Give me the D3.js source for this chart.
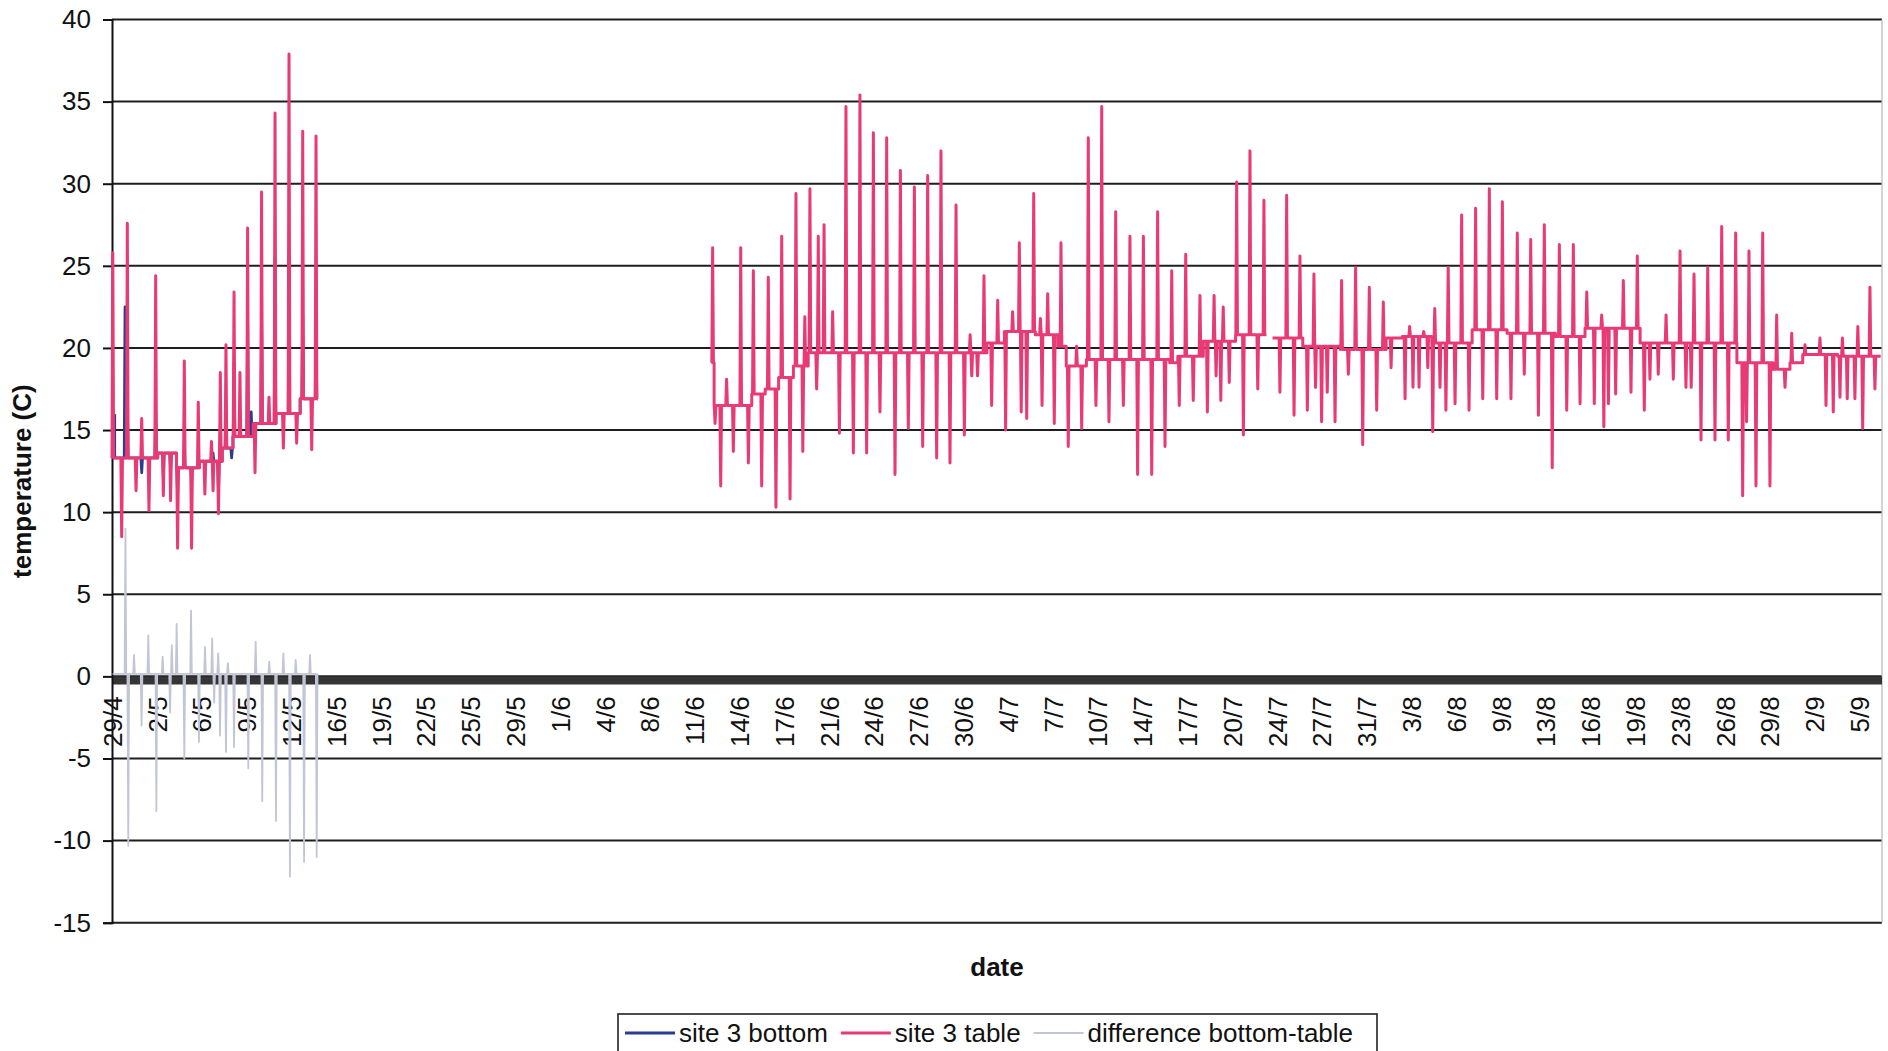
<!DOCTYPE html>
<html><head><meta charset="utf-8">
<script src="https://cdn.jsdelivr.net/npm/d3@7"></script>
<style>
body{margin:0;background:#fff}
svg{display:block}
text{font-family:Arial,"Liberation Sans",Helvetica,sans-serif}
</style>
</head><body>
<svg id="chart" width="1888" height="1051"></svg>
<script>
// ---------- DATA ----------
const tickLabels = ["29/4","2/5","6/5","9/5","12/5","16/5","19/5","22/5","25/5","29/5","1/6","4/6","8/6","11/6","14/6","17/6","21/6","24/6","27/6","30/6","4/7","7/7","10/7","14/7","17/7","20/7","24/7","27/7","31/7","3/8","6/8","9/8","13/8","16/8","19/8","23/8","26/8","29/8","2/9","5/9"];
const daysPerLabel = 10 / 3;            // category labels every 40 samples (2 h each)
const yTicks = [-15,-10,-5,0,5,10,15,20,25,30,35,40];

// site 3 table: baseline levels (step starts, days after 29/4) and single-sample spikes
const tableBaseDay   = [0, 3.4, 4.8, 6.5, 8.2, 9.0, 10.5, 12.2, 14.0, 15.3,
  44.6, 44.8, 47.6, 48.6, 49.6, 50.7, 51.8, 65.1, 66.4, 68.7, 70.4, 71.0, 72.5,
  78.7, 79.3, 81.2, 83.6, 85.9, 86.35, 88.6, 91.4, 94.8, 96.0, 98.2, 101.2, 103.8, 107.4, 109.6,
  113.7, 120.9, 123.6, 124.85, 125.8, 128.4, 131.6];
const tableBaseValue = [13.3, 13.6, 12.7, 13.1, 13.9, 14.6, 15.4, 16.0, 16.9, null,
  19.1, 16.5, 17.2, 17.5, 18.2, 18.9, 19.7, 20.3, 21.0, 20.8, 20.1, 18.9, 19.3,
  19.1, 19.5, 20.4, 20.8, null, 20.6, 20.1, 19.9, 20.6, 20.7, 20.3, 21.1, 20.9, 20.7, 21.2,
  20.3, 19.1, 18.7, 19.1, 19.6, 19.5, null];
const tableSpikeDay = [0.06,0.72,1.14,1.79,2.21,2.75,3.25,3.82,4.36,4.88,5.38,5.92,6.42,6.91,7.40,7.52,7.92,8.06,8.48,9.08,9.52,10.09,10.64,11.13,11.68,12.13,12.75,13.17,13.74,14.19,14.86,15.18,
  44.69,44.87,45.29,45.73,46.23,46.78,47.35,47.72,48.34,48.83,49.40,49.83,50.45,50.89,51.40,51.55,51.93,52.43,52.55,52.98,53.62,54.12,54.61,55.16,55.65,56.15,56.65,57.14,57.64,58.26,58.66,59.25,59.70,60.32,60.69,61.36,61.68,62.35,62.80,63.42,63.85,63.97,64.40,64.88,65.45,65.90,66.49,67.01,67.51,67.65,68.06,68.58,69.08,69.20,69.62,70.11,70.61,71.15,71.77,72.15,72.64,73.21,73.64,74.18,74.68,75.25,75.74,76.31,76.74,77.36,77.80,78.35,78.85,79.41,79.89,80.45,80.95,81.50,82.00,82.15,82.50,82.68,83.13,83.68,84.18,84.67,85.25,85.71,
  86.90,87.40,87.95,88.39,88.94,89.43,89.55,90.00,90.42,91.00,91.49,91.99,92.53,93.06,93.55,94.10,94.59,95.17,96.21,96.55,96.80,97.25,97.60,97.90,98.27,98.42,98.81,99.25,99.42,99.93,100.42,100.97,101.46,101.99,102.48,103.03,103.45,104.09,104.56,105.08,105.56,106.13,106.57,107.16,107.69,108.24,108.73,109.23,109.73,110.29,110.84,111.00,111.34,111.88,112.45,113.02,113.49,114.01,114.43,115.05,115.63,116.17,116.67,117.11,117.50,117.71,118.23,118.73,119.27,119.77,120.26,120.81,121.33,121.62,121.80,122.32,122.82,123.36,123.86,124.48,124.98,125.97,127.08,127.53,128.07,128.57,128.75,129.11,129.68,129.90,130.26,130.80,131.17];
const tableSpikeValue = [25.8,8.5,27.6,11.3,15.7,10.1,24.4,11.0,10.7,7.8,19.2,7.8,16.7,11.1,14.3,11.3,9.9,18.5,20.2,23.4,18.5,27.3,12.4,29.5,17.0,34.3,13.9,37.9,14.2,33.2,13.8,32.9,
  26.1,15.4,11.6,18.1,13.7,26.1,13.0,24.7,11.6,24.3,10.3,26.8,10.8,29.4,13.7,21.9,29.7,17.5,26.8,27.5,22.2,14.8,34.7,13.6,35.4,13.6,33.1,16.1,32.8,12.3,30.8,15.1,29.8,14.0,30.5,13.3,32.0,13.0,28.7,14.7,20.8,18.3,18.3,24.4,16.5,22.9,15.0,22.2,26.4,16.1,15.7,29.4,21.8,16.5,23.3,15.4,26.4,14.0,20.1,15.1,32.8,16.5,34.7,15.5,28.3,16.5,26.8,12.3,26.8,12.3,28.3,14.0,24.7,16.5,25.7,16.8,23.2,16.1,23.2,18.3,16.8,22.5,17.9,30.1,14.7,32.0,17.5,29.0,
  17.3,29.3,15.9,25.6,16.2,24.5,17.6,15.5,17.3,15.5,24.1,18.4,24.9,14.1,23.7,16.2,22.8,18.8,16.9,21.3,17.6,17.6,21.0,18.8,14.9,22.4,17.6,16.2,24.9,16.6,28.1,16.2,28.5,16.9,29.7,16.9,28.9,16.9,27.0,18.4,26.6,15.9,27.5,12.7,26.3,16.2,26.3,16.6,23.4,16.6,22.0,15.2,16.6,17.2,24.1,17.3,25.6,16.2,18.1,18.4,22.0,18.1,25.9,17.6,17.6,24.5,14.4,24.9,14.4,27.4,14.4,27.0,11.0,15.5,25.9,11.6,27.0,11.6,22.0,17.6,20.9,20.2,20.6,16.5,16.1,17.0,20.6,16.9,16.9,21.3,15.1,23.7,17.5];

// site 3 bottom (only logged in the first fortnight)
const bottomBaseDay   = [0, 0.2, 3.4, 4.8, 6.5, 8.2, 9.0, 10.5, 12.2, 14.0, 15.3];
const bottomBaseValue = [15.9, 13.3, 13.6, 12.7, 13.1, 13.9, 14.6, 15.4, 16.0, 16.9, null];
const bottomSpikeDay   = [0.97,1.14,2.21,2.75,3.25,3.82,4.36,4.88,5.38,5.92,6.91,7.52,7.92,8.06,8.48,8.90,9.08,10.09,10.36,10.64,11.13,12.13,13.17,14.19,15.18];
const bottomSpikeValue = [22.5,17.3,12.4,12.6,16.2,12.2,12.6,11.0,14.1,11.7,12.9,13.6,11.3,14.9,15.6,13.3,19.1,21.6,16.1,14.5,21.9,25.5,25.7,21.9,21.9];

// difference bottom-table
const diffBaseDay   = [0.05, 15.3];
const diffBaseValue = [0.15, null];
const diffSpikeDay   = [1.00,1.21,1.64,2.20,2.70,3.30,3.77,4.32,4.45,4.81,5.38,5.88,6.47,6.92,7.45,7.60,7.90,8.04,8.48,8.62,9.08,10.14,10.69,11.18,11.70,12.20,12.75,13.24,13.67,14.29,14.73,15.23];
const diffSpikeValue = [9.0,-10.3,1.3,-3.0,2.5,-8.2,1.2,-2.2,1.9,3.2,-5.0,4.0,-4.0,1.8,2.3,-1.6,1.4,-3.6,-4.6,0.8,-4.3,-5.6,2.1,-7.6,0.9,-8.8,1.4,-12.2,1.0,-11.3,1.3,-11.0];

const seriesNames  = ["site 3 bottom", "site 3 table", "difference bottom-table"];
const seriesColors = ["#2b3d8f", "#e83a74", "#c2c5d6"];

// ---------- LAYOUT ----------
const svg = d3.select("#chart");
const plotLeft = 112, plotRight = 1882, plotTop = 19.5, plotBottom = 922.7;
const lastLabelX = plotLeft + (tickLabels.length - 1) * 44.8;
const x = d3.scaleLinear()
  .domain([0, (tickLabels.length - 1) * daysPerLabel])
  .range([plotLeft, lastLabelX]);
const y = d3.scaleLinear().domain([-15, 40]).range([plotBottom, plotTop]);
const ink = "#111";

svg.append("rect").attr("width", 1888).attr("height", 1051).attr("fill", "#fff");

// horizontal gridlines
svg.append("g").selectAll("line").data(yTicks).join("line")
  .attr("x1", plotLeft).attr("x2", plotRight)
  .attr("y1", d => y(d)).attr("y2", d => y(d))
  .attr("stroke", "#1e1e1e").attr("stroke-width", 2);

// right plot border
svg.append("line").attr("x1", plotRight).attr("x2", plotRight)
  .attr("y1", plotTop).attr("y2", plotBottom)
  .attr("stroke", "#b8b8b8").attr("stroke-width", 1.2);

// heavy band along zero
svg.append("line").attr("x1", plotLeft).attr("x2", plotRight)
  .attr("y1", y(-0.25)).attr("y2", y(-0.25))
  .attr("stroke", "#353535").attr("stroke-width", 8);

// y axis
const yAxis = svg.append("g").attr("transform", `translate(${plotLeft},0)`)
  .call(d3.axisLeft(y).tickValues(yTicks).tickSize(9).tickPadding(12).tickFormat(d => String(d)));
yAxis.select(".domain").attr("stroke", ink).attr("stroke-width", 2);
yAxis.selectAll(".tick line").attr("stroke", ink).attr("stroke-width", 2);
yAxis.selectAll(".tick text").attr("font-size", 26).attr("fill", ink)
  .style("font-family", "Arial, 'Liberation Sans', sans-serif");

// x axis (category labels every 40 samples)
const xAxis = svg.append("g").attr("transform", `translate(0,${y(0)})`)
  .call(d3.axisBottom(x)
    .tickValues(tickLabels.map((_, i) => i * daysPerLabel))
    .tickFormat((_, i) => tickLabels[i])
    .tickSize(0));
xAxis.select(".domain").remove();
xAxis.selectAll(".tick text")
  .attr("transform", "rotate(-90)")
  .attr("x", -20).attr("y", 0).attr("dy", "0.36em")
  .style("text-anchor", "end")
  .attr("font-size", 26).attr("fill", ink)
  .style("font-family", "Arial, 'Liberation Sans', sans-serif");

// ---------- SERIES ----------
function buildSeries(baseDay, baseVal, spikeDay, spikeVal, eps) {
  const pts = [];
  let k = 0;
  const baseAt = d => {
    let v = null;
    for (let i = 0; i < baseDay.length; i++) { if (baseDay[i] <= d) v = baseVal[i]; else break; }
    return v;
  };
  baseDay.forEach((d, i) => {
    if (i > 0 && baseVal[i - 1] != null) pts.push({ d, v: baseVal[i - 1], k: k++ });
    pts.push({ d, v: baseVal[i], k: k++ });
  });
  spikeDay.forEach((d, i) => {
    const b = baseAt(d);
    if (b == null) return;
    pts.push({ d: d - eps, v: b, k: k++ }, { d, v: spikeVal[i], k: k++ }, { d: d + eps, v: b, k: k++ });
  });
  pts.sort((a, b) => (a.d - b.d) || (a.k - b.k));
  return pts;
}

const line = d3.line().defined(p => p.v != null).x(p => x(p.d)).y(p => y(p.v));
const eps = 0.06;
const plot = svg.append("g").attr("fill", "none").attr("stroke-linejoin", "round");

plot.append("path")
  .attr("d", line(buildSeries(diffBaseDay, diffBaseValue, diffSpikeDay, diffSpikeValue, eps)))
  .attr("stroke", seriesColors[2]).attr("stroke-width", 1.8);
plot.append("path")
  .attr("d", line(buildSeries(bottomBaseDay, bottomBaseValue, bottomSpikeDay, bottomSpikeValue, eps)))
  .attr("stroke", seriesColors[0]).attr("stroke-width", 2.8);
plot.append("path")
  .attr("d", line(buildSeries(tableBaseDay, tableBaseValue, tableSpikeDay, tableSpikeValue, eps)))
  .attr("stroke", seriesColors[1]).attr("stroke-width", 3);

// ---------- TITLES ----------
svg.append("text").attr("transform", `translate(31,${(plotTop + plotBottom) / 2 + 10}) rotate(-90)`)
  .attr("text-anchor", "middle").attr("font-size", 26).attr("font-weight", "bold").attr("fill", ink)
  .text("temperature (C)");
svg.append("text").attr("x", 997).attr("y", 976)
  .attr("text-anchor", "middle").attr("font-size", 26).attr("font-weight", "bold").attr("fill", ink)
  .text("date");

// ---------- LEGEND ----------
const legend = svg.append("g");
legend.append("rect").attr("x", 618).attr("y", 1014).attr("width", 759).attr("height", 60)
  .attr("fill", "#fff").attr("stroke", "#222").attr("stroke-width", 1.6);
let lx = 625;
seriesNames.forEach((name, i) => {
  legend.append("line").attr("x1", lx).attr("x2", lx + 50).attr("y1", 1033).attr("y2", 1033)
    .attr("stroke", seriesColors[i]).attr("stroke-width", i === 2 ? 2 : 3);
  const t = legend.append("text").attr("x", lx + 54).attr("y", 1042)
    .attr("font-size", 26).attr("fill", ink).text(name);
  lx += 54 + t.node().getComputedTextLength() + 13;
});
</script>
</body></html>
